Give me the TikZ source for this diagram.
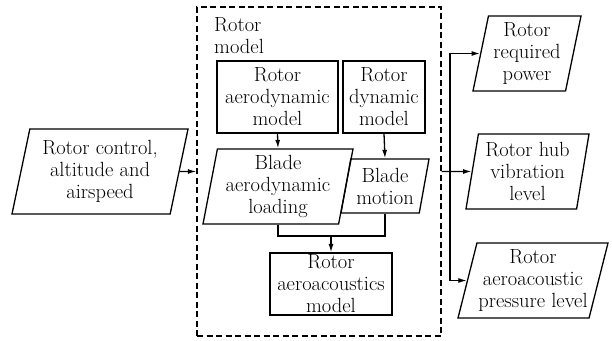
\documentclass[tikz,border=0pt]{standalone}
\usetikzlibrary{shapes.geometric,arrows.meta}
\tikzset{
  txt/.style={inner sep=0pt,align=center,font=\fontsize{20.5}{22}\selectfont},
  blk/.style={txt,draw,rectangle,line width=1.3pt},
  io/.style={txt,draw,trapezium,trapezium left angle=#1,trapezium right angle={180-#1},
    trapezium stretches body,line width=1.3pt},
  io/.default=76,
  link/.style={line width=1.3pt,->},
}

\begin{document}
\begin{tikzpicture}[line join=miter,x=1pt,y=1pt,>={Latex[length=8.5pt,width=5pt]}]
\useasboundingbox (0,0) rectangle (612,340);

% rotor model frame
\node[draw,dash pattern=on 6pt off 3.5pt,line width=1.3pt,minimum width=244pt,minimum height=329pt,inner sep=0pt] (rotmod) at (319,168.5) {};
\node[txt,anchor=west,align=left] (rotlbl) at (214,304) {Rotor\\model};

% inside
\node[blk,minimum width=121pt,minimum height=72pt] (aeromod) at (277.5,243) {Rotor\\aerodynamic\\model};
\node[blk,minimum width=82pt,minimum height=72pt] (dynmod) at (384,243) {Rotor\\dynamic\\model};
\node[io=77,minimum width=150pt,minimum height=75pt] (load) at (278,153.5) {Blade\\aerodynamic\\loading};
\node[io=75,minimum width=88pt,minimum height=54pt] (motion) at (385,154) {Blade\\motion};
\node[blk,minimum width=122pt,minimum height=62pt] (acoustic) at (331,56) {Rotor\\aeroacoustics\\model};
\coordinate (join) at (331,104);

% input and outputs
\node[io=74,minimum width=176pt,minimum height=85pt] (input) at (100,168.5) {Rotor control,\\altitude and\\airspeed};
\node[io=76,minimum width=108pt,minimum height=75pt] (power) at (527,286.5) {Rotor\\required\\power};
\node[io=78,minimum width=123pt,minimum height=75pt] (hub) at (527.5,168.5) {Rotor hub\\vibration\\level};
\node[io=73,minimum width=150pt,minimum height=75pt] (press) at (533,59.5) {Rotor\\aeroacoustic\\pressure level};
\coordinate (bus) at (450,168.5);

\draw[link] (input.east) -- (rotmod.west);
\draw[link] (aeromod.south) -- (load.north);
\draw[link] (dynmod.south) -- (motion.north);
\draw[line width=1.3pt] (load.south) |- (join) -| (motion.south);
\draw[link] (join) -- (acoustic.north);
\draw[link] (rotmod.east) -- (hub.west);
\draw[link] (bus) |- (power.west);
\draw[link] (bus) |- (press.west);
\end{tikzpicture}
\end{document}
